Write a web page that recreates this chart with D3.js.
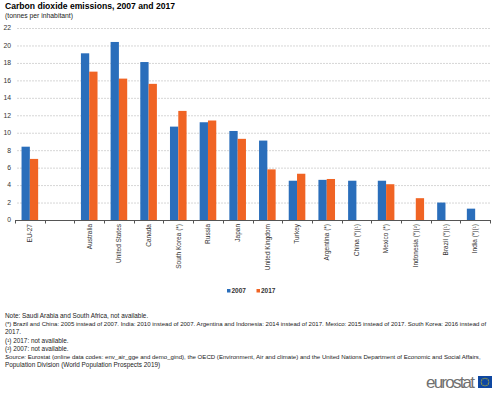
<!DOCTYPE html>
<html><head><meta charset="utf-8">
<script src="https://cdn.jsdelivr.net/npm/d3@7"></script>
<style>body{margin:0;background:#fff;}svg{display:block;font-family:Arial,"Liberation Sans",sans-serif;}</style>
</head><body>
<svg id="c" width="500" height="394"></svg>
<script>
const categories = ["EU-27","","Australia","United States","Canada","South Korea (*)","Russia","Japan","United Kingdom","Turkey","Argentina (*)","China (*)(¹)","Mexico (*)","Indonesia (*)(²)","Brazil (*)(¹)","India (*)(¹)"];
const values2007 = [8.4,null,19.1,20.4,18.1,10.7,11.2,10.2,9.1,4.5,4.6,4.5,4.5,null,2.0,1.3];
const values2017 = [7.0,null,17.0,16.2,15.6,12.5,11.4,9.3,5.8,5.3,4.7,null,4.1,2.5,null,null];
const seriesNames = ["2007","2017"];
const colors = ["#2a6ebb","#f06424"];
const yTicks = [0,2,4,6,8,10,12,14,16,18,20,22];
const notes = [
 "Note: Saudi Arabia and South Africa, not available.",
 "(*) Brazil and China: 2005 instead of 2007. India: 2010 instead of 2007. Argentina and Indonesia: 2014 instead of 2017. Mexico: 2015 instead of 2017. South Korea: 2016 instead of",
 "2017.",
 "(¹) 2017: not available.",
 "(²) 2007: not available."
];
const sourceLines = [
 ["Source:"," Eurostat (online data codes: env_air_gge and demo_gind), the OECD (Environment, Air and climate) and the United Nations Department of Economic and Social Affairs,"],
 [null,"Population Division (World Population Prospects 2019)"]
];

const svg = d3.select("#c");
const m = {l:15, r:490, t:28, b:220};
const x = d3.scaleBand().domain(d3.range(categories.length)).range([m.l, m.r]).paddingInner(0).paddingOuter(0);
const y = d3.scaleLinear().domain([0,22]).range([m.b, m.t]);
const barW = 8.3;

svg.append("text").attr("x",5).attr("y",9).attr("font-size",8.6).attr("font-weight","bold").attr("fill","#000").text("Carbon dioxide emissions, 2007 and 2017");
svg.append("text").attr("x",5).attr("y",18).attr("font-size",6.8).attr("fill","#222").text("(tonnes per inhabitant)");

// grid
svg.append("g").selectAll("line").data(yTicks.filter(d=>d>0)).join("line")
 .attr("x1",17).attr("x2",491).attr("y1",d=>y(d)+0.5).attr("y2",d=>y(d)+0.5)
 .attr("stroke","#d6d6d6").attr("stroke-width",1).attr("stroke-dasharray","2,1");

// y labels
svg.append("g").selectAll("text").data(yTicks).join("text")
 .attr("x",11).attr("y",d=>y(d)+2.4).attr("text-anchor","end").attr("font-size",6.8).attr("fill","#333").text(d=>d);

// bars
const series = [values2007, values2017];
series.forEach((vals,si)=>{
  svg.append("g").selectAll("rect").data(vals.map((v,i)=>({v,i})).filter(d=>d.v!=null)).join("rect")
   .attr("x",d=>x(d.i)+x.bandwidth()/2 - barW + si*barW)
   .attr("width",barW)
   .attr("y",d=>y(d.v)).attr("height",d=>y(0)-y(d.v))
   .attr("fill",colors[si]);
});

// x axis
svg.append("line").attr("x1",m.l).attr("x2",m.r).attr("y1",y(0)+0.5).attr("y2",y(0)+0.5).attr("stroke","#555").attr("stroke-width",1);
svg.append("g").selectAll("line").data(d3.range(categories.length+1)).join("line")
 .attr("x1",i=>Math.round(m.l + i*x.bandwidth())+0.5).attr("x2",i=>Math.round(m.l + i*x.bandwidth())+0.5)
 .attr("y1",y(0)).attr("y2",y(0)+3.5).attr("stroke","#555");
svg.append("g").selectAll("text").data(categories).join("text")
 .attr("transform",(d,i)=>`translate(${x(i)+x.bandwidth()/2+2.3},${y(0)+4}) rotate(-90)`)
 .attr("text-anchor","end").attr("font-size",6.5).attr("fill","#333").text(d=>d);

// legend
const lg = svg.append("g");
[[227,0],[256.5,1]].forEach(([lx,i])=>{
  lg.append("rect").attr("x",lx).attr("y",289).attr("width",3.5).attr("height",3.5).attr("fill",colors[i]);
  lg.append("text").attr("x",lx+4.5).attr("y",293).attr("font-size",6.5).attr("font-weight","bold").attr("fill","#333").text(seriesNames[i]);
});

// notes
const ng = svg.append("g").attr("fill","#222");
function fitFont(el, target, base){
  el.attr("font-size", base);
  const len = el.node().getComputedTextLength();
  if (len > target) el.attr("font-size", base*target/len);
}
notes.forEach((t,i)=>{
  const el = ng.append("text").attr("x",5).attr("y",318+i*8.2).text(t);
  fitFont(el, i===1 ? 481 : 1000, 6.4);
});
sourceLines.forEach((p,i)=>{
  const t = ng.append("text").attr("x",5).attr("y",318+(5+i)*8.2);
  if(p[0]) t.append("tspan").attr("font-style","italic").text(p[0]);
  t.append("tspan").text(p[1]);
  fitFont(t, i===0 ? 476 : 1000, 6.4);
});

// logo
svg.append("text").attr("x",426).attr("y",388).attr("font-size",17).attr("fill","#707070").attr("textLength",49).text("eurostat");
svg.append("rect").attr("x",478).attr("y",376).attr("width",14).attr("height",12).attr("fill","#0e47a1");
const flag = svg.append("g");
d3.range(12).forEach(k=>{
  const a = k/12*2*Math.PI;
  flag.append("circle").attr("cx",485+3.8*Math.cos(a)).attr("cy",382+3.8*Math.sin(a)).attr("r",0.55).attr("fill","#ffdd00");
});
</script>
</body></html>
